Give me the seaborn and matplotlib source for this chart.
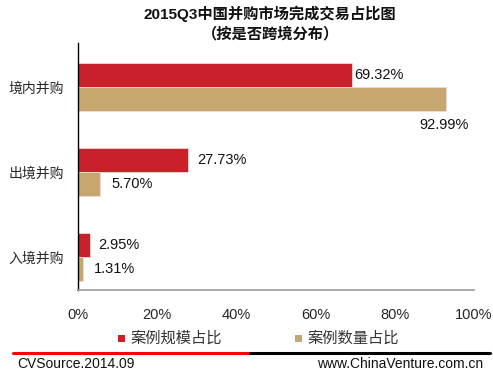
import matplotlib
matplotlib.use("Agg")
import matplotlib.pyplot as plt
import seaborn as sns
import pandas as pd
from matplotlib.lines import Line2D
from matplotlib.patches import Rectangle

categories = ["境内并购", "出境并购", "入境并购"]
series_names = ["案例规模占比", "案例数量占比"]
scale_share = [69.32, 27.73, 2.95]
count_share = [92.99, 5.70, 1.31]
x_ticks = [0, 20, 40, 60, 80, 100]
x_tick_labels = ["0%", "20%", "40%", "60%", "80%", "100%"]

sns.set_style("white")
plt.rcParams["font.family"] = ["Liberation Sans", "Noto Sans CJK SC", "DejaVu Sans"]

df = pd.DataFrame({
    "cat": categories * 2,
    "series": [series_names[0]] * 3 + [series_names[1]] * 3,
    "val": scale_share + count_share,
})

colors = ["#C9202A", "#C6A76E"]
fig = plt.figure(figsize=(4.93, 3.75), dpi=100)
ax = fig.add_axes([0.158, 0.2267, 0.8035, 0.6583])
sns.barplot(data=df, y="cat", x="val", hue="series", order=categories,
            hue_order=series_names, palette=colors, orient="h", width=0.57,
            saturation=1, edgecolor="#F3D6D6", linewidth=0.6, ax=ax, legend=False)

ax.set_xlim(0, 100)
ax.set_ylim(2.388, -0.518)
ax.set_xticks(x_ticks)
ax.set_xticklabels(x_tick_labels, fontsize=10.5)
ax.tick_params(axis="x", length=0, pad=13)
ax.tick_params(axis="y", length=0, labelsize=10, pad=10)
ax.set_xlabel("")
ax.set_ylabel("")
for s in ["top", "right"]:
    ax.spines[s].set_visible(False)
ax.spines["left"].set_color("black")
ax.spines["left"].set_linewidth(1.0)
ax.spines["bottom"].set_color("#999999")
ax.spines["bottom"].set_linewidth(1.2)

# value labels
offsets = {0: [(0.5, 0), (-6.8, 0.30)], 1: [(2.5, 0), (2.7, 0)], 2: [(2.3, 0), (2.8, 0)]}
for si, cont in enumerate(ax.containers):
    vals = scale_share if si == 0 else count_share
    for ci, bar in enumerate(cont):
        v = vals[ci]
        dx, dy = offsets[ci][si]
        y = bar.get_y() + bar.get_height() / 2 + dy
        ax.text(v + dx, y, f"{v:.2f}%", va="center", ha="left", fontsize=10.5,
                color="#111111")

# title
fig.text(0.548, 0.962, "2015Q3中国并购市场完成交易占比图", ha="center", va="center",
         fontsize=11, fontweight="bold", color="#111111")
fig.text(0.548, 0.91, "（按是否跨境分布）", ha="center", va="center",
         fontsize=11, fontweight="bold", color="#111111")

# legend
for (lx, name, c) in [(0.239, series_names[0], colors[0]), (0.598, series_names[1], colors[1])]:
    fig.patches.append(Rectangle((lx, 0.087), 0.015, 0.02, transform=fig.transFigure,
                                 facecolor=c, edgecolor="none"))
    fig.text(lx + 0.025, 0.097, name, ha="left", va="center", fontsize=11, color="#333333")

# footer lines
fig.lines.append(Line2D([0.026, 0.508], [0.059, 0.059], transform=fig.transFigure,
                        color="#FF0000", linewidth=2.2))
fig.lines.append(Line2D([0.508, 0.994], [0.059, 0.059], transform=fig.transFigure,
                        color="#000000", linewidth=2.2))
fig.text(0.036, 0.028, "CVSource.2014.09", ha="left", va="center", fontsize=10, color="#111111")
fig.text(0.98, 0.028, "www.ChinaVenture.com.cn", ha="right", va="center", fontsize=10, color="#111111")

fig.savefig("out.png", dpi=100)
